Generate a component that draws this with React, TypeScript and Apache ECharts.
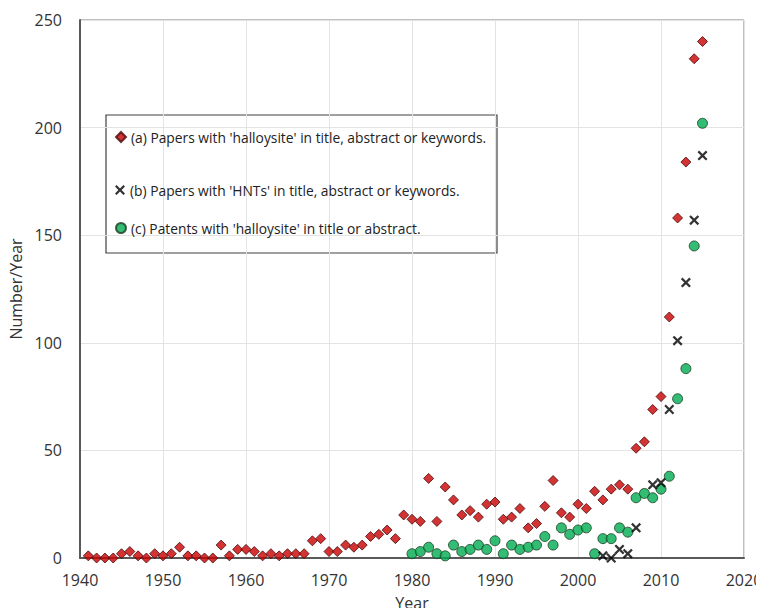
import React, { useEffect, useRef } from "react";
import * as echarts from "echarts";

const yearsA = [1941,1942,1943,1944,1945,1946,1947,1948,1949,1950,1951,1952,1953,1954,1955,1956,1957,1958,1959,1960,1961,1962,1963,1964,1965,1966,1967,1968,1969,1970,1971,1972,1973,1974,1975,1976,1977,1978,1979,1980,1981,1982,1983,1984,1985,1986,1987,1988,1989,1990,1991,1992,1993,1994,1995,1996,1997,1998,1999,2000,2001,2002,2003,2004,2005,2006,2007,2008,2009,2010,2011,2012,2013,2014,2015];
const valuesA = [1,0,0,0,2,3,1,0,2,1,2,5,1,1,0,0,6,1,4,4,3,1,2,1,2,2,2,8,9,3,3,6,5,6,10,11,13,9,20,18,17,37,17,33,27,20,22,19,25,26,18,19,23,14,16,24,36,21,19,25,23,31,27,32,34,32,51,54,69,75,112,158,184,232,240];

const yearsB = [2003,2004,2005,2006,2007,2009,2010,2011,2012,2013,2014,2015];
const valuesB = [1,0,4,2,14,34,35,69,101,128,157,187];

const yearsC = [1980,1981,1982,1983,1984,1985,1986,1987,1988,1989,1990,1991,1992,1993,1994,1995,1996,1997,1998,1999,2000,2001,2002,2003,2004,2005,2006,2007,2008,2009,2010,2011,2012,2013,2014,2015];
const valuesC = [2,3,5,2,1,6,3,4,6,4,8,2,6,4,5,6,10,6,14,11,13,14,2,9,9,14,12,28,30,28,32,38,74,88,145,202];

const nameA = "(a) Papers with 'halloysite' in title, abstract or keywords.";
const nameB = "(b) Papers with 'HNTs' in title, abstract or keywords.";
const nameC = "(c) Patents with 'halloysite' in title or abstract.";

const xTicks = { min: 1940, max: 2020, interval: 10 };
const yTicks = { min: 0, max: 250, interval: 50 };

const X_SYMBOL =
  "path://M0,1.6 L1.6,0 L5,3.4 L8.4,0 L10,1.6 L6.6,5 L10,8.4 L8.4,10 L5,6.6 L1.6,10 L0,8.4 L3.4,5 Z";

const FONT = "'Open Sans', Lato, sans-serif";
const TXT = "#333333";

export default function App() {
  const ref = useRef<HTMLDivElement>(null);
  useEffect(() => {
    if (!ref.current) return;
    const chart = echarts.init(ref.current, undefined, { renderer: "svg" });
    const zip = (xs: number[], vs: number[]) => xs.map((x, i) => [x, vs[i]]);
    const legendCommon = {
      orient: "vertical",
      left: 115,
      padding: 0,
      itemWidth: 10,
      itemHeight: 10,
      itemGap: 5,
      textStyle: { fontFamily: FONT, fontSize: 13.8, color: "#222222" },
      selectedMode: false,
    };
    chart.setOption({
      animation: false,
      backgroundColor: "#ffffff",
      textStyle: { fontFamily: FONT },
      grid: {
        left: 80,
        right: 20,
        top: 20,
        bottom: 58,
        outerBoundsMode: "none",
        containLabel: false,
        show: true,
        borderColor: "#7f7f7f",
        borderWidth: 1,
      },
      legend: [
        { ...legendCommon, top: 130, data: [nameA] },
        { ...legendCommon, top: 183, data: [nameB] },
        { ...legendCommon, top: 221, data: [nameC] },
      ],
      graphic: [
        {
          type: "rect",
          shape: { x: 106, y: 115, width: 391, height: 138 },
          style: { fill: "none", stroke: "#404040", lineWidth: 1.2 },
          z: 0,
        },
      ],
      xAxis: {
        type: "value",
        ...xTicks,
        name: "Year",
        nameLocation: "middle",
        nameGap: 37,
        nameTextStyle: { fontSize: 16, color: TXT, fontFamily: FONT },
        axisLine: { show: true, lineStyle: { color: "#595959", width: 2 } },
        axisTick: { show: false },
        axisLabel: {
          fontSize: 16,
          color: TXT,
          margin: 14,
          fontFamily: FONT,
          formatter: (v: number) => String(v),
        },
        splitLine: { show: true, lineStyle: { color: "#e3e3e3", width: 1 } },
      },
      yAxis: {
        type: "value",
        ...yTicks,
        name: "Number/Year",
        nameLocation: "middle",
        nameGap: 55,
        nameTextStyle: { fontSize: 16, color: TXT, fontFamily: FONT },
        axisLine: { show: true, lineStyle: { color: "#595959", width: 2 } },
        axisTick: { show: false },
        axisLabel: { fontSize: 16, color: TXT, margin: 18, fontFamily: FONT },
        splitLine: { show: true, lineStyle: { color: "#e3e3e3", width: 1 } },
      },
      series: [
        {
          name: nameA,
          type: "scatter",
          symbol: "diamond",
          symbolSize: 10,
          itemStyle: { color: "#c80000", borderColor: "#4a0a0a", borderWidth: 1 },
          data: zip(yearsA, valuesA),
          z: 3,
        },
        {
          name: nameB,
          type: "scatter",
          symbol: X_SYMBOL,
          symbolSize: 10,
          itemStyle: { color: "#000000" },
          data: zip(yearsB, valuesB),
          z: 4,
        },
        {
          name: nameC,
          type: "scatter",
          symbol: "circle",
          symbolSize: 10,
          itemStyle: { color: "#00ab50", borderColor: "#1b3d22", borderWidth: 1 },
          data: zip(yearsC, valuesC),
          z: 2,
        },
      ],
    });
    return () => chart.dispose();
  }, []);
  return <div ref={ref} style={{ width: 764, height: 616, margin: -8 }} />;
}
